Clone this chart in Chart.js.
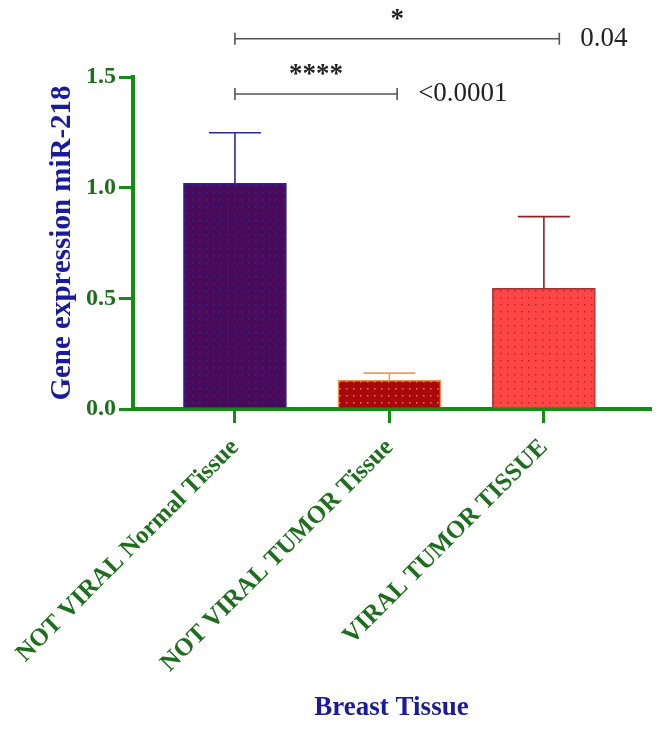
<!DOCTYPE html>
<html>
<head>
<meta charset="utf-8">
<script src="https://cdn.jsdelivr.net/npm/chart.js@4.4.0/dist/chart.umd.min.js"></script>
<style>
  html, body { margin: 0; padding: 0; background: #fff; }
  #contenedor { width: 670px; height: 729px; }
</style>
</head>
<body>
<div id="contenedor"><canvas id="grafico"></canvas></div>
<script>
/* Datos */
const categorias = ["NOT VIRAL Normal Tissue", "NOT VIRAL TUMOR Tissue", "VIRAL TUMOR TISSUE"];
const medias = [1.02, 0.13, 0.545];
const errores = [0.228, 0.032, 0.324];
const ticksY = [0, 0.5, 1.0, 1.5];

/* Comparaciones: inicio, fin (en unidades de categoria), altura, estrellas, valor p */
const compInicio = [0, 0];
const compFin = [1.05, 2.1];
const compAltura = [1.423, 1.673];
const compEstrellas = ["****", "*"];
const compP = ["<0.0001", "0.04"];

const verde = "#158c15";
const verdeTexto = "#1d6e1d";
const azulTitulo = "#1a1a9c";
const serif = "'Liberation Serif', 'DejaVu Serif', serif";

/* Patron de puntos para el relleno */
function crearPatron(fondo, punto) {
    const c = document.createElement("canvas");
    c.width = 7;
    c.height = 7;
    const g = c.getContext("2d");
    g.fillStyle = fondo;
    g.fillRect(0, 0, 7, 7);
    g.fillStyle = punto;
    g.fillRect(3, 3, 1.5, 1.5);
    return g.createPattern(c, "repeat");
}

const rellenos = [
    crearPatron("#4a0a5a", "#2a2a90"),
    crearPatron("#a80808", "#f07070"),
    crearPatron("#ff4646", "#b02828")
];
const bordes = ["#2424a8", "#f0904a", "#a83030"];
const colorError = ["#2a2a96", "#f09a5a", "#8a2424"];

/* Barras de error (solo hacia arriba) */
const barrasError = {
    id: "barrasError",
    afterDatasetsDraw(chart) {
        const { ctx, scales: { x, y } } = chart;
        ctx.save();
        ctx.lineWidth = 1.6;
        medias.forEach((m, i) => {
            const px = x.getPixelForValue(i);
            const yBase = y.getPixelForValue(m);
            const yTop = y.getPixelForValue(m + errores[i]);
            ctx.strokeStyle = colorError[i];
            ctx.beginPath();
            ctx.moveTo(px, yBase);
            ctx.lineTo(px, yTop);
            ctx.moveTo(px - 26, yTop);
            ctx.lineTo(px + 26, yTop);
            ctx.stroke();
        });
        ctx.restore();
    }
};

/* Corchetes de significancia */
const corchetes = {
    id: "corchetes",
    afterDraw(chart) {
        const { ctx, scales: { x, y } } = chart;
        ctx.save();
        ctx.strokeStyle = "#555";
        ctx.fillStyle = "#222";
        ctx.lineWidth = 1.6;
        compAltura.forEach((h, i) => {
            const x1 = x.getPixelForValue(compInicio[i]);
            const x2 = x.getPixelForValue(compFin[i]);
            const py = y.getPixelForValue(h);
            ctx.beginPath();
            ctx.moveTo(x1, py);
            ctx.lineTo(x2, py);
            ctx.moveTo(x1, py - 6);
            ctx.lineTo(x1, py + 6);
            ctx.moveTo(x2, py - 6);
            ctx.lineTo(x2, py + 6);
            ctx.stroke();

            ctx.textAlign = "center";
            ctx.textBaseline = "alphabetic";
            ctx.font = "bold 27px " + serif;
            ctx.fillText(compEstrellas[i], (x1 + x2) / 2, py - 12);

            ctx.textBaseline = "middle";
            ctx.textAlign = "left";
            ctx.font = "27px " + serif;
            ctx.fillText(compP[i], x2 + 21, py);
        });
        ctx.restore();
    }
};

const ctx = document.querySelector("#grafico");

new Chart(ctx, {
    type: "bar",
    data: {
        datasets: [{
            data: medias.map((v, i) => ({ x: i, y: v })),
            backgroundColor: rellenos,
            borderColor: bordes,
            borderWidth: 1.5,
            barThickness: 103
        }]
    },
    options: {
        responsive: true,
        maintainAspectRatio: false,
        animation: false,
        layout: { padding: { top: 77, right: 20, left: 0, bottom: 0 } },
        plugins: { legend: { display: false }, tooltip: { enabled: false } },
        scales: {
            x: {
                type: "linear",
                offset: false,
                min: -0.66,
                max: 2.687,
                afterFit: (s) => { s.height = 320; s.paddingLeft = 0; s.paddingRight = 0; },
                afterBuildTicks: (s) => { s.ticks = categorias.map((c, i) => ({ value: i })); },
                border: { color: verde, width: 4 },
                grid: { offset: false, drawOnChartArea: false, drawTicks: true, tickLength: 14, color: verde, lineWidth: 3 },
                ticks: {
                    minRotation: 45,
                    maxRotation: 45,
                    padding: 10,
                    color: verdeTexto,
                    font: { family: serif, size: 25, weight: "bold" },
                    callback: (v) => categorias[v]
                },
                title: {
                    display: true,
                    text: "Breast Tissue",
                    color: azulTitulo,
                    font: { family: serif, size: 27, weight: "bold" },
                    padding: { top: 0, bottom: 5 }
                }
            },
            y: {
                min: 0,
                max: 1.5,
                afterFit: (s) => { s.width = 133; },
                afterBuildTicks: (s) => { s.ticks = ticksY.map(v => ({ value: v })); },
                border: { color: verde, width: 4 },
                grid: { drawOnChartArea: false, drawTicks: true, tickLength: 14, color: verde, lineWidth: 3 },
                ticks: {
                    padding: 3,
                    color: verdeTexto,
                    font: { family: serif, size: 24, weight: "bold" },
                    callback: (v) => v.toFixed(1)
                },
                title: {
                    display: true,
                    text: "Gene expression miR-218",
                    color: azulTitulo,
                    font: { family: serif, size: 29, weight: "bold" },
                    padding: { top: 45, bottom: 0 }
                }
            }
        }
    },
    plugins: [barrasError, corchetes]
});
</script>
</body>
</html>
